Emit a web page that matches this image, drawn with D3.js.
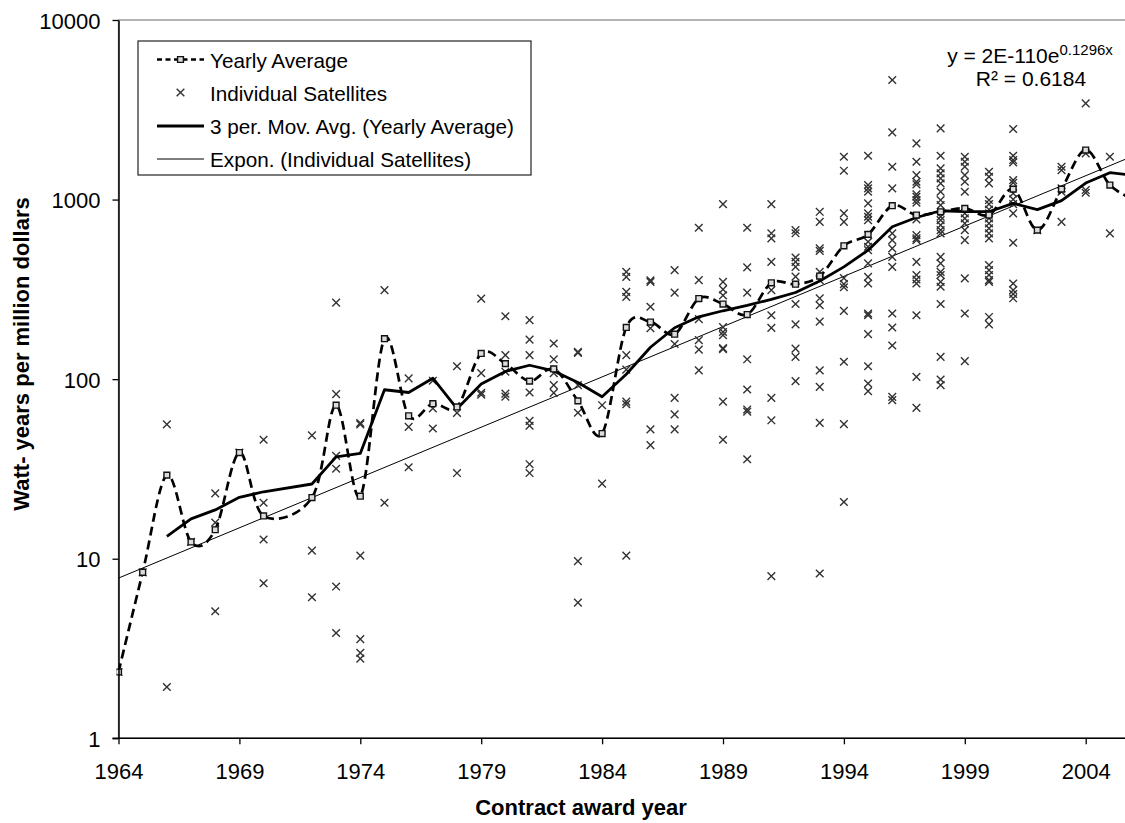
<!DOCTYPE html>
<html>
<head>
<meta charset="utf-8">
<script src="https://cdn.jsdelivr.net/npm/d3@7"></script>
<style>
body { margin: 0; background: #fff; }
svg { display: block; }
</style>
</head>
<body>
<div id="chart"></div>
<script>
// ---------------------- data ----------------------
var avgYears = [1964,1965,1966,1967,1968,1969,1970,1972,1973,1974,1975,1976,1977,1978,1979,1980,1981,1982,1983,1984,
                1985,1986,1987,1988,1989,1990,1991,1992,1993,1994,1995,1996,1997,1998,1999,2000,2001,2002,2003,2004,2005,2006];
var avgValues = [2.34,8.4,29.2,12.4,14.5,39,17.3,21.9,71.6,22.3,168,62.5,73,70,139,122,97.5,114,75.7,49.8,
                 194,208,178,281,262,229,344,338,375,553,640,924,820,855,893,820,1143,676,1143,1888,1205,1000];

// individual satellites, grouped by contract year
var satYears = [1964,1965,1966,1967,1968,1969,1970,1972,1973,1974,1975,1976,1977,1978,1979,1980,1981,1982,1983,1984,
                1985,1986,1987,1988,1989,1990,1991,1992,1993,1994,1995,1996,1997,1998,1999,2000,2001,2002,2003,2004,2005];
var satValues = [
  [2.34],
  [8.4],
  [56, 1.93],
  [12.4],
  [23.1, 15.9, 5.1],
  [39],
  [46, 20.5, 12.8, 7.3],
  [48.6, 11.1, 6.1],
  [267, 82.5, 37.4, 31.7, 7.0, 3.86],
  [57, 56, 10.4, 3.57, 2.99, 2.78],
  [313, 20.5],
  [101, 54.2, 32.3],
  [98, 68.7, 53.1],
  [118, 64.9, 30],
  [281, 108, 84, 82],
  [224, 136, 110, 83, 80],
  [213, 166, 136, 84.3, 58.6, 55, 33.6, 30],
  [158, 129, 108, 92.6, 83.9],
  [142, 140, 92.6, 65, 9.7, 5.7],
  [71.6, 26.2],
  [396, 371, 306, 287, 136, 113, 75, 72.5, 10.4],
  [355, 348, 253, 192, 52.5, 42.9],
  [405, 303, 157, 78.7, 63.6, 52.5],
  [697, 356, 216, 165, 146, 112],
  [944, 348, 316, 293, 195, 183, 176, 149, 147, 75, 46],
  [697, 419, 303, 129, 87.6, 67.8, 66, 35.8],
  [944, 649, 608, 450, 313, 227, 193, 78.7, 59, 8.0],
  [676, 649, 476, 450, 422, 372, 262, 202, 148, 133, 97.5],
  [855, 752, 535, 518, 396, 356, 282, 258, 209, 112, 90.6, 57.1, 8.27],
  [1731, 1448, 838, 752, 365, 338, 325, 240, 125, 56.2, 20.7],
  [1754, 1205, 1154, 1105, 953, 838, 802, 769, 634, 582, 546, 523, 441, 371, 341, 232, 227, 178, 118, 94.6, 85.7],
  [4634, 2367, 1523, 1154, 648, 595, 535, 480, 422, 232, 194, 154, 79.7, 76.4],
  [2056, 1624, 1368, 1257, 1216, 1069, 1037, 994, 960, 776, 634, 608, 595, 450, 380, 359, 341, 227, 103, 69.2],
  [2494, 1754, 1492, 1400, 1313, 1231, 1105, 994, 932, 802, 769, 721, 676, 648, 480, 441, 396, 380, 348, 327, 262, 133, 99.6, 92.6],
  [1731, 1624, 1523, 1368, 1257, 1105, 838, 786, 737, 676, 595, 364, 232, 126],
  [1429, 1340, 1231, 994, 944, 880, 838, 786, 737, 691, 648, 608, 432, 405, 380, 356, 348, 222, 202],
  [2472, 1754, 1660, 1611, 1284, 1241, 1083, 1002, 944, 838, 575, 341, 313, 298, 282],
  [676],
  [1523, 1459, 1154, 1105, 752],
  [3435, 1808, 1130, 1091],
  [1731, 648]
];

// exponential trend line (end points)
var trendYears = [1964, 2006];
var trendValues = [7.8, 1757];

var xTicks = [1964, 1969, 1974, 1979, 1984, 1989, 1994, 1999, 2004];
var yTicks = [1, 10, 100, 1000, 10000];

var legendLabels = ["Yearly Average", "Individual Satellites", "3 per. Mov. Avg. (Yearly Average)", "Expon. (Individual Satellites)"];

// ---------------------- setup ----------------------
var W = 1125, H = 823;
var font = "'Liberation Sans', Arial, sans-serif";

var svg = d3.select("#chart")
     .append("svg")
     .attr("width", W)
     .attr("height", H)
     .style("font-family", font);

var x = d3.scaleLinear().domain([1964, 2004]).range([118.5, 1085.7]);
var y = d3.scaleLog().domain([1, 10000]).range([738.3, 20]);

svg.append("clipPath").attr("id", "plotclip")
     .append("rect")
     .attr("x", x(1964) - 2).attr("y", y(10000))
     .attr("width", 1200).attr("height", y(1) - y(10000));

// plot area border (grey), right side is cut off in the picture
svg.append("rect")
     .attr("x", x(1964)).attr("y", y(10000))
     .attr("width", 1200).attr("height", y(1) - y(10000))
     .attr("fill", "none")
     .attr("stroke", "#8c8c8c")
     .attr("stroke-width", 1.3);

var plot = svg.append("g").attr("clip-path", "url(#plotclip)");

// ---------------------- trend line ----------------------
var trendPts = trendYears.map(function(d, i) { return [d, trendValues[i]]; });
plot.append("path")
     .datum(trendPts)
     .attr("fill", "none")
     .attr("stroke", "#000")
     .attr("stroke-width", 1)
     .attr("d", d3.line().x(function(d) { return x(d[0]); }).y(function(d) { return y(d[1]); }));

// ---------------------- individual satellites ----------------------
var satPts = [];
satYears.forEach(function(yr, i) {
  satValues[i].forEach(function(v) { satPts.push([yr, v]); });
});

plot.append("g").selectAll("path")
     .data(satPts)
     .enter()
     .append("path")
     .attr("transform", function(d) { return "translate(" + x(d[0]) + "," + y(d[1]) + ")"; })
     .attr("d", d3.symbol().type(d3.symbolX).size(40))
     .attr("fill", "none")
     .attr("stroke", "#333")
     .attr("stroke-width", 1.4);

// ---------------------- yearly average (smoothed, dashed) ----------------------
var avgPts = avgYears.map(function(d, i) { return [d, avgValues[i]]; });
plot.append("path")
     .datum(avgPts)
     .attr("fill", "none")
     .attr("stroke", "#000")
     .attr("stroke-width", 2.7)
     .attr("stroke-dasharray", "9,5")
     .attr("d", d3.line()
        .curve(d3.curveCatmullRom.alpha(0))
        .x(function(d) { return x(d[0]); })
        .y(function(d) { return y(d[1]); }));

// ---------------------- 3 period moving average of yearly average ----------------------
var maPts = avgYears.slice(2).map(function(d, i) {
  return [d, d3.mean(avgValues.slice(i, i + 3))];
});
plot.append("path")
     .datum(maPts)
     .attr("fill", "none")
     .attr("stroke", "#000")
     .attr("stroke-width", 2.8)
     .attr("stroke-linejoin", "round")
     .attr("d", d3.line().x(function(d) { return x(d[0]); }).y(function(d) { return y(d[1]); }));

// squares on top
plot.append("g").selectAll("path")
     .data(avgPts)
     .enter()
     .append("path")
     .attr("transform", function(d) { return "translate(" + x(d[0]) + "," + y(d[1]) + ")"; })
     .attr("d", d3.symbol().type(d3.symbolSquare).size(34))
     .attr("fill", "#dcdcdc")
     .attr("stroke", "#111")
     .attr("stroke-width", 1.4);

// ---------------------- axes ----------------------
var xAxis = svg.append("g")
     .attr("transform", "translate(0," + y(1) + ")")
     .call(d3.axisBottom(x).tickValues(xTicks).tickFormat(d3.format("d")).tickSize(6).tickSizeOuter(0));
xAxis.select(".domain").attr("d", "M" + (x(1964) - 6) + ",0H" + (W + 20)).attr("stroke", "#000").attr("stroke-width", 1.5);
xAxis.selectAll(".tick line").attr("stroke", "#000").attr("stroke-width", 1.3);
xAxis.selectAll(".tick text")
     .attr("y", 41).attr("dy", 0)
     .style("font-family", font).style("font-size", "22px").attr("fill", "#000");

var yAxis = svg.append("g")
     .attr("transform", "translate(" + x(1964) + ",0)")
     .call(d3.axisLeft(y).tickValues(yTicks).tickFormat(d3.format("d")).tickSize(6).tickSizeOuter(0));
yAxis.select(".domain").attr("stroke", "#000").attr("stroke-width", 1.5);
yAxis.selectAll(".tick line").attr("stroke", "#000").attr("stroke-width", 1.3);
yAxis.selectAll(".tick text")
     .attr("x", -18).attr("dy", 0).attr("y", 8)
     .style("font-family", font).style("font-size", "22px").attr("fill", "#000");

// axis titles
svg.append("text")
     .text("Contract award year")
     .attr("x", 581).attr("y", 815)
     .attr("text-anchor", "middle")
     .style("font-size", "22px").style("font-weight", "bold");

svg.append("text")
     .text("Watt- years per million dollars")
     .attr("transform", "translate(29,354) rotate(-90)")
     .attr("text-anchor", "middle")
     .style("font-size", "22px").style("font-weight", "bold");

// ---------------------- legend ----------------------
var lg = svg.append("g");
lg.append("rect")
     .attr("x", 138).attr("y", 41)
     .attr("width", 393).attr("height", 134)
     .attr("fill", "#fff")
     .attr("stroke", "#222")
     .attr("stroke-width", 1.2);

var rowY = [59.5, 92.5, 126, 159];
// yearly average sample
lg.append("line").attr("x1", 157).attr("x2", 204).attr("y1", rowY[0]).attr("y2", rowY[0])
     .attr("stroke", "#000").attr("stroke-width", 2.7).attr("stroke-dasharray", "5,3.5");
lg.append("path").attr("transform", "translate(180.5," + rowY[0] + ")")
     .attr("d", d3.symbol().type(d3.symbolSquare).size(34))
     .attr("fill", "#dcdcdc").attr("stroke", "#111").attr("stroke-width", 1.4);
// satellites sample
lg.append("path").attr("transform", "translate(180.5," + rowY[1] + ")")
     .attr("d", d3.symbol().type(d3.symbolX).size(40))
     .attr("fill", "none").attr("stroke", "#333").attr("stroke-width", 1.4);
// moving average sample
lg.append("line").attr("x1", 157).attr("x2", 204).attr("y1", rowY[2]).attr("y2", rowY[2])
     .attr("stroke", "#000").attr("stroke-width", 2.8);
// trend sample
lg.append("line").attr("x1", 157).attr("x2", 204).attr("y1", rowY[3]).attr("y2", rowY[3])
     .attr("stroke", "#000").attr("stroke-width", 1);

lg.selectAll("text.lab")
     .data(legendLabels)
     .enter()
     .append("text")
     .attr("class", "lab")
     .text(function(d) { return d; })
     .attr("x", 210)
     .attr("y", function(d, i) { return rowY[i] + 8; })
     .style("font-size", "20.7px");

// ---------------------- regression equation ----------------------
var eq = svg.append("text")
     .attr("x", 1030).attr("y", 63)
     .attr("text-anchor", "middle")
     .style("font-size", "21px");
eq.append("tspan").text("y = 2E-110e");
eq.append("tspan").text("0.1296x").attr("dy", -8).style("font-size", "15px");

svg.append("text")
     .text("R\u00B2 = 0.6184")
     .attr("x", 1031).attr("y", 86)
     .attr("text-anchor", "middle")
     .style("font-size", "21px");
</script>
</body>
</html>
